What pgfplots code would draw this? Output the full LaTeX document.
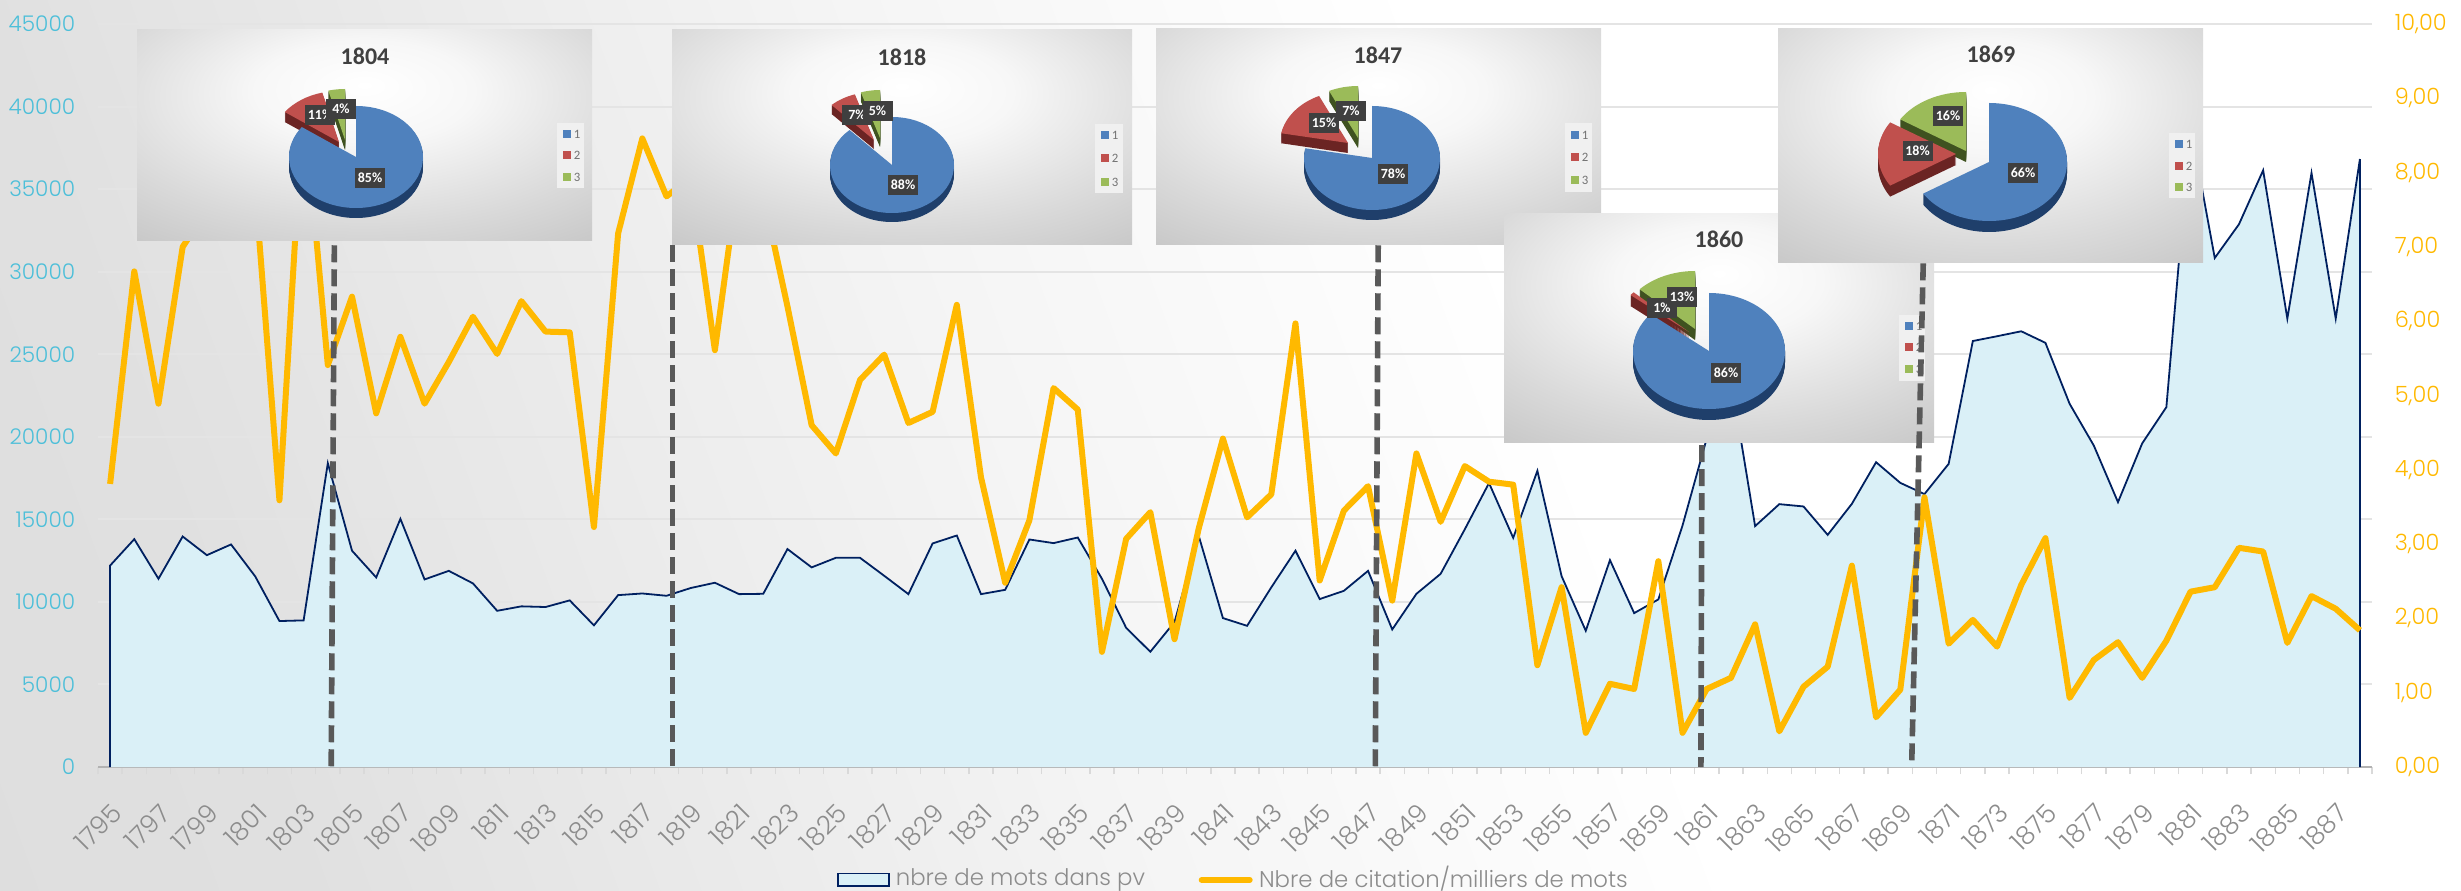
\documentclass[border=0pt]{standalone}
\usepackage{fontspec}
\usepackage{pgfplots}
\usepackage{pgfplotstable}
\pgfplotsset{compat=1.18}
\usetikzlibrary{arrows.meta,calc}
\setmainfont{Poppins Light}
\newfontfamily\carlito{Carlito}

\definecolor{Cyan}{HTML}{4DBFD9}
\definecolor{Amber}{HTML}{FFB900}
\definecolor{Navy}{HTML}{002060}
\definecolor{Pale}{HTML}{DAF0F7}
\definecolor{Tick}{HTML}{8C8C8C}
\definecolor{Rule}{HTML}{E4E4E4}
\definecolor{Dash}{HTML}{595959}
\definecolor{PieB}{HTML}{4F81BD}
\definecolor{PieBd}{HTML}{1F3F6B}
\definecolor{PieR}{HTML}{C0504D}
\definecolor{PieRd}{HTML}{6B2423}
\definecolor{PieG}{HTML}{9BBB59}
\definecolor{PieGd}{HTML}{3F5220}
\definecolor{Lab}{HTML}{3F3F3F}
\definecolor{bgA}{HTML}{DADADA}
\definecolor{bgB}{HTML}{E0E0E0}
\definecolor{bgC}{HTML}{F5F5F5}
\definecolor{boxA}{HTML}{F7F7F7}
\definecolor{boxB}{HTML}{D9D9D9}
\definecolor{boxC}{HTML}{BABABA}

\pgfdeclarehorizontalshading{bgsh}{100bp}{color(0bp)=(bgA); color(25bp)=(bgB); color(45bp)=(bgC); color(58bp)=(white); color(100bp)=(white)}
\pgfdeclareradialshading{boxsh}{\pgfpoint{0bp}{12bp}}{color(0bp)=(white); color(12bp)=(boxA); color(30bp)=(boxB); color(50bp)=(boxC); color(100bp)=(boxC)}

\pgfplotstableread{
year mots
1795 0
1795 12200
1796 13800
1797 11400
1798 13960
1799 12830
1800 13480
1801 11540
1802 8840
1803 8880
1804 18400
1805 13100
1806 11480
1807 15030
1808 11360
1809 11880
1810 11120
1811 9460
1812 9730
1813 9690
1814 10090
1815 8580
1816 10410
1817 10510
1818 10370
1819 10840
1820 11160
1821 10470
1822 10490
1823 13200
1824 12090
1825 12670
1826 12670
1827 11580
1828 10470
1829 13540
1830 14020
1831 10470
1832 10730
1833 13780
1834 13560
1835 13900
1836 11400
1837 8430
1838 6980
1839 8780
1840 14000
1841 9020
1842 8550
1843 10880
1844 13100
1845 10170
1846 10670
1847 11880
1848 8330
1849 10490
1850 11700
1851 14400
1852 17200
1853 13880
1854 17940
1855 11560
1856 8250
1857 12530
1858 9320
1859 10150
1860 14630
1861 19900
1862 23500
1863 14590
1864 15920
1865 15780
1866 14060
1867 15940
1868 18460
1869 17210
1870 16530
1871 18360
1872 25800
1873 26090
1874 26390
1875 25690
1876 22000
1877 19470
1878 16040
1879 19600
1880 21800
1881 38800
1882 30830
1883 32870
1884 36140
1885 27160
1886 35980
1887 27160
1888 36820
1888 0
}\mots

\pgfplotstableread{
year cit
1795 3.81
1796 6.67
1797 4.89
1798 7.00
1799 7.50
1800 8.50
1801 7.80
1802 3.59
1803 9.00
1804 5.41
1805 6.33
1806 4.76
1807 5.79
1808 4.89
1809 5.45
1810 6.06
1811 5.56
1812 6.27
1813 5.86
1814 5.85
1815 3.23
1816 7.18
1817 8.46
1818 7.68
1819 7.93
1820 5.61
1821 8.00
1822 7.70
1823 6.20
1824 4.60
1825 4.22
1826 5.21
1827 5.55
1828 4.63
1829 4.78
1830 6.22
1831 3.90
1832 2.48
1833 3.32
1834 5.10
1835 4.81
1836 1.55
1837 3.07
1838 3.43
1839 1.72
1840 3.21
1841 4.42
1842 3.36
1843 3.67
1844 5.97
1845 2.51
1846 3.45
1847 3.78
1848 2.24
1849 4.22
1850 3.30
1851 4.05
1852 3.84
1853 3.80
1854 1.37
1855 2.42
1856 0.46
1857 1.12
1858 1.05
1859 2.77
1860 0.46
1861 1.05
1862 1.20
1863 1.92
1864 0.48
1865 1.08
1866 1.35
1867 2.71
1868 0.67
1869 1.04
1870 3.63
1871 1.66
1872 1.98
1873 1.62
1874 2.45
1875 3.08
1876 0.93
1877 1.44
1878 1.68
1879 1.20
1880 1.70
1881 2.36
1882 2.42
1883 2.95
1884 2.90
1885 1.67
1886 2.30
1887 2.13
1888 1.84
}\cit

% inset helpers, all numbers are pixels of the 2461x890 picture, y from the top
\newcommand{\insetbox}[4]{\shade[shading=boxsh] (#1,890-#2) rectangle (#3,890-#4);}
% start end dx dy top side
\newcommand{\slice}[6]{%
  \foreach \dd in {\pdepth,...,1}{
    \fill[#6] ({\pcx+#3},{890-\pcy+#4-\dd}) -- ++(#1:\prx*1 and \pry*1)
      arc[start angle=#1,end angle=#2,x radius=\prx,y radius=\pry] -- cycle;
  }
  \fill[#5] ({\pcx+#3},{890-\pcy+#4}) -- ++(#1:\prx*1 and \pry*1)
    arc[start angle=#1,end angle=#2,x radius=\prx,y radius=\pry] -- cycle;
}
% \pie{cx}{cy}{rx}{ry}{depth}{blue}{red}{green}{rdx}{rdy}{gdx}{gdy}
\newcommand{\pie}[5]{\def\pcx{#1}\def\pcy{#2}\def\prx{#3}\def\pry{#4}\def\pdepth{#5}\pieb}
\newcommand{\pieb}[7]{%
  \pgfmathsetmacro\angA{90-3.6*#1}
  \pgfmathsetmacro\angB{\angA-3.6*#2}
  \slice{\angB}{-270}{#6}{#7}{PieG}{PieGd}
  \slice{\angA}{\angB}{#4}{#5}{PieR}{PieRd}
  \slice{90}{\angA}{0}{0}{PieB}{PieBd}
}
\newcommand{\pielabel}[3]{\node[fill=Lab,text=white,inner sep=0pt,minimum width=7.5pt,minimum height=5.2pt,
  font=\carlito\bfseries\fontsize{3.5pt}{4pt}\selectfont] at (#1,890-#2) {#3\%};}
\newcommand{\pietitle}[3]{\node[text=black!75,inner sep=0pt,font=\carlito\bfseries\fontsize{6pt}{7pt}\selectfont] at (#1,890-#2) {#3};}
% \pielegend{x0}{x1}{y0}{y1}{ya}{yb}{yc}
\newcommand{\pielegend}[7]{%
  \fill[black!6] (#1,890-#3) rectangle (#2,890-#4);
  \foreach \yy/\col/\lbl in {#5/PieB/1,#6/PieR/2,#7/PieG/3}{
    \fill[\col] ({#1+6},{890-\yy-4}) rectangle ({#1+14},{890-\yy+4});
    \node[text=black!55,inner sep=0pt,anchor=west,font=\carlito\fontsize{3.2pt}{4pt}\selectfont] at ({#1+16},{890-\yy}) {\lbl};
  }
}

\pgfplotsset{
  base/.style={
    scale only axis,
    width=568.5pt,
    height=185.75pt,
    at={(24.5pt,30.75pt)},
    anchor=south west,
    xmin=1794.5,
    xmax=1888.5,
    ymin=0,
  }
}

\begin{document}
\begin{tikzpicture}[x=0.25pt,y=0.25pt]
  \useasboundingbox (0,0) rectangle (2461,890);
  \clip (0,0) rectangle (2461,890);
  \shade[shading=bgsh,shading angle=20] (0,0) rectangle (2461,890);

  \begin{axis}[
    base,
    ymax=45000,
    axis x line*=bottom,
    axis y line*=left,
    y axis line style={draw=none},
    x axis line style={draw=black!30,line width=0.5pt},
    ytick={0,5000,...,45000},
    scaled y ticks=false,
    ymajorgrids=true,
    grid style={Rule,line width=0.5pt},
    major y tick style={draw=none},
    xtick={1795,1797,...,1887},
    major x tick style={draw=none},
    minor xtick={1794.5,1795.5,...,1888.5},
    minor x tick style={draw=black!15,line width=0.35pt},
    minor tick length=1.75pt,
    tick align=outside,
    /pgf/number format/assume math mode=true,
    /pgf/number format/1000 sep={},
    x tick label style={rotate=45,anchor=north east,text=Tick,inner sep=0pt,xshift=-3pt,yshift=-3pt,
      font=\fontsize{6.4pt}{7pt}\selectfont},
    y tick label style={text=Cyan,inner sep=0pt,xshift=-1.25pt,
      font=\fontsize{5.4pt}{6pt}\selectfont},
  ]
    \addplot[fill=Pale,draw=Navy,line width=0.45pt] table[x=year,y=mots] {\mots};
  \end{axis}

  \begin{axis}[
    base,
    ymax=10,
    axis x line=none,
    axis y line*=right,
    y axis line style={draw=none},
    ytick={0,1,...,10},
    major y tick style={draw=none},
    /pgf/number format/assume math mode=true,
    y tick label style={text=Amber,inner sep=0pt,xshift=5.5pt,
      /pgf/number format/fixed,/pgf/number format/fixed zerofill,
      /pgf/number format/precision=2,/pgf/number format/use comma,
      font=\fontsize{5.6pt}{6pt}\selectfont},
    legend columns=2,
    legend cell align=left,
    legend style={at={(0.3245,-0.152)},anchor=west,draw=none,fill=none,inner sep=0pt,
      text=Tick,font=\fontsize{5.7pt}{6pt}\selectfont,
      /tikz/every odd column/.style={column sep=-0.4pt},
      /tikz/every even column/.style={column sep=11.4pt}},
  ]
    \addlegendimage{legend image code/.code={
      \draw[fill=Pale,draw=Navy,line width=0.45pt] (0pt,-1.6pt) rectangle (12.75pt,1.6pt);}}
    \addlegendentry{nbre de mots dans pv}
    \addlegendimage{legend image code/.code={
      \draw[Amber,line width=1.5pt,line cap=round] (0.6pt,0pt) -- (12.6pt,0pt);}}
    \addlegendentry{Nbre de citation/milliers de mots}
    \addplot[Amber,line width=1.5pt,line join=round,forget plot]
      table[x=year,y=cit] {\cit};
  \end{axis}

  % the five pie charts pasted over the plot
  \insetbox{137}{30}{592}{241}
  \pie{356}{157}{67}{51}{10}{85}{11}{4}{-17}{15}{-11}{17}
  \pietitle{365}{56}{1804}
  \pielabel{370}{178}{85}\pielabel{320}{115}{11}\pielabel{341}{109}{4}
  \pielegend{557}{584}{123}{188}{134}{155}{177}

  \insetbox{672}{30}{1132}{245}
  \pie{892}{165}{62}{48}{9}{88}{7}{5}{-18}{25}{-12}{27}
  \pietitle{902}{57}{1818}
  \pielabel{903}{185}{88}\pielabel{857}{115}{7}\pielabel{877.5}{111}{5}
  \pielegend{1095}{1123}{124}{193}{135}{158}{182}

  \insetbox{1156}{29}{1601}{245}
  \pie{1372}{158}{68}{52}{10}{78}{15}{7}{-24}{15}{-14}{20}
  \pietitle{1378}{55}{1847}
  \pielabel{1393}{174}{78}\pielabel{1324}{123}{15}\pielabel{1351}{111}{7}
  \pielegend{1565}{1592}{123}{192}{135}{157}{180}

  \insetbox{1504}{214}{1934}{442}
  \pie{1709}{351}{76}{58}{11}{86}{1}{13}{-20}{19}{-14}{22}
  \pietitle{1719}{239}{1860}
  \pielabel{1726}{373}{86}\pielabel{1662}{308}{1}\pielabel{1682}{297}{13}
  \pielegend{1899}{1925}{315}{381}{326}{347}{369}

  \insetbox{1778}{29}{2203}{263}
  \pie{1989}{162}{78}{59}{11}{66}{18}{16}{-33}{8}{-23}{11}
  \pietitle{1991}{54}{1869}
  \pielabel{2023}{173}{66}\pielabel{1917.5}{151}{18}\pielabel{1948}{116}{16}
  \pielegend{2169}{2195}{133}{198}{144}{166}{187}

  % dashed markers, drawn from the top down
  \begin{axis}[base,ymax=45000,hide axis]
    \addplot[Dash,line width=1.4pt,dash pattern=on 4.25pt off 1.75pt] coordinates {(1804.27,31600) (1804.14,0)};
    \addplot[Dash,line width=1.4pt,dash pattern=on 4.25pt off 1.75pt] coordinates {(1818.25,31600) (1818.25,0)};
    \addplot[Dash,line width=1.4pt,dash pattern=on 4.25pt off 1.75pt] coordinates {(1847.42,31600) (1847.3,0)};
    \addplot[Dash,line width=1.4pt,dash pattern=on 4.25pt off 1.75pt] coordinates {(1860.8,19500) (1860.76,0)};
    \addplot[Dash,line width=1.4pt,dash pattern=on 4.25pt off 1.75pt] coordinates {(1869.95,30500) (1869.47,0)};
  \end{axis}
\end{tikzpicture}
\end{document}
